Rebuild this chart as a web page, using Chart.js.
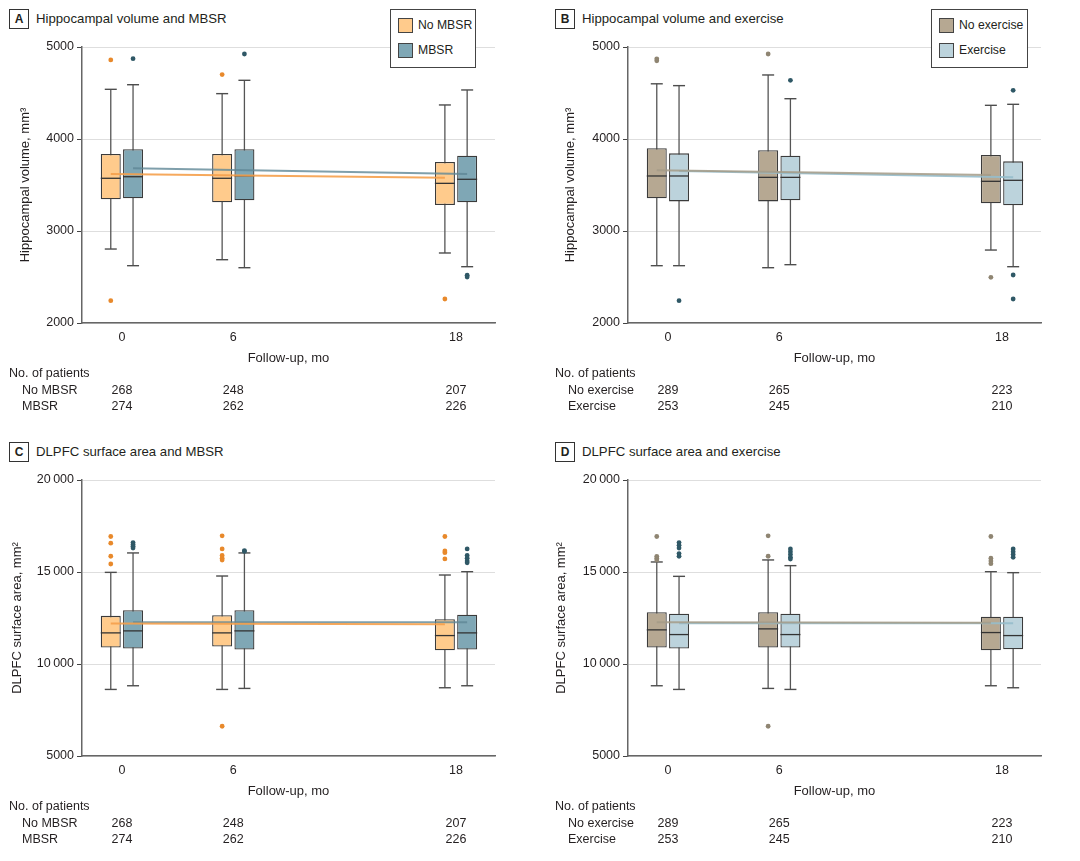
<!DOCTYPE html>
<html>
<head>
<meta charset="utf-8">
<script src="https://cdn.jsdelivr.net/npm/chart.js@4.4.1/dist/chart.umd.min.js"></script>
<style>
  body { margin: 0; background: #fff; font-family: "Liberation Sans", Arial, sans-serif; color: #231f20; }
  .panel { position: absolute; width: 540px; height: 433px; }
  .panel canvas { position: absolute; left: 0; top: 0; }
  .tag { position: absolute; left: 9px; top: 9px; width: 18px; height: 18px; border: 1.3px solid #333; font-weight: bold; font-size: 12px; line-height: 18px; text-align: center; }
  .ptitle { position: absolute; left: 36px; top: 9px; line-height: 20px; font-size: 13.2px; }
  .legend { position: absolute; top: 9px; height: 57px; border: 1px solid #444; background: #fff; }
  .sw { position: absolute; left: 7px; width: 13px; height: 13px; border: 1px solid #444; }
  .lt { position: absolute; left: 27px; font-size: 12.2px; line-height: 18px; white-space: nowrap; }
  .txt { position: absolute; font-size: 12.5px; line-height: 18px; white-space: nowrap; }
</style>
</head>
<body>
<div class="panel" id="pA" style="left:0;top:0">
  <div class="tag">A</div><div class="ptitle">Hippocampal volume and MBSR</div>
  <canvas id="cA" width="540" height="370"></canvas>
</div>
<div class="panel" id="pB" style="left:546px;top:0">
  <div class="tag">B</div><div class="ptitle">Hippocampal volume and exercise</div>
  <canvas id="cB" width="540" height="370"></canvas>
</div>
<div class="panel" id="pC" style="left:0;top:433px">
  <div class="tag">C</div><div class="ptitle">DLPFC surface area and MBSR</div>
  <canvas id="cC" width="540" height="370"></canvas>
</div>
<div class="panel" id="pD" style="left:546px;top:433px">
  <div class="tag">D</div><div class="ptitle">DLPFC surface area and exercise</div>
  <canvas id="cD" width="540" height="370"></canvas>
</div>
<script>
const months = [0, 6, 18];
const shift = 0.6;

// each box row: [low whisker, Q1, median, Q3, high whisker]
// A: hippocampal volume, MBSR
const aNoMbsrBox = [[2804, 3344, 3573, 3837, 4540], [2688, 3312, 3573, 3837, 4493], [2761, 3283, 3518, 3750, 4370]];
const aNoMbsrOut = [[4860, 2243], [4700], [2261]];
const aNoMbsrTrend = [3620, 3580];
const aMbsrBox = [[2623, 3355, 3590, 3888, 4590], [2601, 3334, 3600, 3888, 4638], [2612, 3312, 3562, 3819, 4533]];
const aMbsrOut = [[4873], [4924], [2520, 2500]];
const aMbsrTrend = [3681, 3620];

// B: hippocampal volume, exercise
const bNoExBox = [[2623, 3355, 3598, 3899, 4600], [2601, 3322, 3583, 3877, 4696], [2793, 3301, 3540, 3826, 4366]];
const bNoExOut = [[4850, 4872], [4924], [2496]];
const bNoExTrend = [3660, 3609];
const bExBox = [[2623, 3322, 3598, 3844, 4580], [2634, 3334, 3583, 3819, 4438], [2612, 3279, 3551, 3757, 4377]];
const bExOut = [[2243], [4638], [4529, 2522, 2261]];
const bExTrend = [3652, 3583];

// C: DLPFC surface area, MBSR
const cNoMbsrBox = [[8618, 10891, 11691, 12618, 14980], [8618, 10945, 11691, 12655, 14782], [8709, 10745, 11545, 12436, 14836]];
const cNoMbsrOut = [[16929, 16564, 15855, 15436], [16964, 16255, 15900, 15750, 15650, 6618], [16929, 16145, 16050, 15709]];
const cNoMbsrTrend = [12200, 12164];
const cMbsrBox = [[8818, 10836, 11800, 12927, 16036], [8673, 10782, 11800, 12927, 16036], [8818, 10782, 11691, 12673, 15018]];
const cMbsrOut = [[16600, 16500, 16400, 16300], [16164, 16120], [16255, 15900, 15750, 15600, 15500]];
const cMbsrTrend = [12273, 12273];

// D: DLPFC surface area, exercise
const dNoExBox = [[8818, 10891, 11855, 12818, 15545], [8673, 10891, 11909, 12818, 15655], [8818, 10745, 11709, 12564, 15018]];
const dNoExOut = [[16929, 15850, 15750, 15650], [16964, 15855, 6618], [16929, 15750, 15600, 15450]];
const dNoExTrend = [12273, 12236];
const dExBox = [[8618, 10836, 11600, 12727, 14764], [8618, 10891, 11600, 12727, 15345], [8709, 10800, 11545, 12564, 14964]];
const dExOut = [[16600, 16450, 16300, 16000, 15850], [16250, 16100, 15950, 15800, 15700], [16250, 16100, 15950, 15800]];
const dExTrend = [12218, 12218];

// numbers of patients per month
const mbsrLabels = ["No MBSR", "MBSR"];
const mbsrN = [[268, 248, 207], [274, 262, 226]];
const exLabels = ["No exercise", "Exercise"];
const exN = [[289, 265, 223], [253, 245, 210]];

const hipTicks = [2000, 3000, 4000, 5000];
const dlpfcTicks = [5000, 10000, 15000, 20000];

const colNoMbsr = { fill: "#ffcb8c", dot: "#e8892b", line: "rgba(245,160,75,0.9)" };
const colMbsr = { fill: "#7fa7b5", dot: "#2f5866", line: "rgba(95,135,150,0.8)" };
const colNoEx = { fill: "#b6a892", dot: "#8f8572", line: "rgba(165,155,135,0.85)" };
const colEx = { fill: "#bcd3dc", dot: "#2f5866", line: "rgba(150,188,203,0.9)" };

Chart.defaults.font.family = '"Liberation Sans", Arial, sans-serif';
Chart.defaults.font.size = 12.5;
Chart.defaults.color = "#231f20";

function fmt(v) {
  const s = String(v);
  return s.length > 4 ? s.slice(0, s.length - 3) + "\u2009" + s.slice(-3) : s;
}

function boxSets(box, out, trend, dx, col) {
  const xs = months.map(m => m + dx);
  return [
    { type: "line", data: [{ x: xs[0], y: trend[0] }, { x: xs[2], y: trend[1] }],
      borderColor: col.line, borderWidth: 2, pointRadius: 0, order: 0 },
    { type: "scatter", data: out.flatMap((vals, i) => vals.map(v => ({ x: xs[i], y: v }))),
      pointRadius: 2.4, backgroundColor: col.dot, borderWidth: 0, order: 1 },
    { type: "scatter", data: box.map((b, i) => ({ x: xs[i], y: b[2] })),
      pointStyle: "line", pointRadius: 10, borderColor: "#333", borderWidth: 1.3, order: 2 },
    { type: "bar", data: box.map((b, i) => ({ x: xs[i], y: [b[1], b[3]] })),
      backgroundColor: col.fill, borderColor: "#3b3b3b", borderWidth: 1.3, borderSkipped: false,
      barThickness: 20, grouped: false, inflateAmount: 0, order: 3 },
    { type: "scatter", data: box.flatMap((b, i) => [{ x: xs[i], y: b[0] }, { x: xs[i], y: b[4] }]),
      pointStyle: "line", pointRadius: 6, borderColor: "#4d4d4d", borderWidth: 1.4, order: 4 },
    { type: "bar", data: box.map((b, i) => ({ x: xs[i], y: [b[0], b[4]] })),
      backgroundColor: "#555", barThickness: 1.3, grouped: false, inflateAmount: 0, order: 5 },
  ];
}

function makePanel(p) {
  const datasets = boxSets(p.box1, p.out1, p.trend1, -shift, p.col1)
    .concat(boxSets(p.box2, p.out2, p.trend2, shift, p.col2));
  const chart = new Chart(document.getElementById(p.canvas), {
    type: "bar",
    data: { datasets },
    options: {
      responsive: false,
      animation: false,
      events: [],
      layout: { padding: { top: 47, right: 45, left: 0, bottom: 0 } },
      plugins: { legend: { display: false }, tooltip: { enabled: false } },
      scales: {
        x: {
          type: "linear", min: -2.15, max: 20.1, offset: false,
          afterBuildTicks: s => { s.ticks = months.map(v => ({ value: v })); },
          afterFit: s => { s.height = 47; },
          grid: { display: false, drawTicks: false },
          border: { color: "#666", width: 1.5 },
          ticks: { padding: 7, callback: v => String(v) },
          title: { display: true, text: "Follow-up, mo", font: { size: 13 }, padding: { top: 0, bottom: 4 } },
        },
        y: {
          min: p.ticks[0], max: p.ticks[p.ticks.length - 1],
          afterBuildTicks: s => { s.ticks = p.ticks.map(v => ({ value: v })); },
          afterFit: s => { s.width = 82; },
          grid: { color: "#dedede", tickColor: "#444", tickLength: 5 },
          border: { color: "#666", width: 1.5 },
          ticks: { padding: 3, callback: v => fmt(v) },
          title: { display: true, text: p.yTitle, font: { size: 13 }, padding: { top: p.yPad, bottom: 0 } },
        },
      },
    },
  });

  const panel = document.getElementById(p.panel);
  // legend
  if (p.legendWidth) {
    const lg = document.createElement("div");
    lg.className = "legend";
    lg.style.left = p.legendLeft + "px";
    lg.style.width = p.legendWidth + "px";
    p.labels.forEach((name, i) => {
      const col = i === 0 ? p.col1 : p.col2;
      lg.insertAdjacentHTML("beforeend",
        `<div class="sw" style="top:${8 + i * 25}px;background:${col.fill}"></div>` +
        `<div class="lt" style="top:${6 + i * 25}px">${name}</div>`);
    });
    panel.appendChild(lg);
  }

  // numbers of patients table
  const add = (text, left, top, center) => {
    const d = document.createElement("div");
    d.className = "txt";
    d.textContent = text;
    d.style.left = left + "px";
    d.style.top = top + "px";
    if (center) d.style.transform = "translateX(-50%)";
    panel.appendChild(d);
  };
  add("No. of patients", 9, 364, false);
  p.labels.forEach((name, r) => {
    add(name, 22, 381 + r * 15.5, false);
    p.counts[r].forEach((n, i) => add(String(n), chart.scales.x.getPixelForValue(months[i]), 381 + r * 15.5, true));
  });
}

makePanel({ panel: "pA", canvas: "cA", ticks: hipTicks, yTitle: "Hippocampal volume, mm³", yPad: 18,
  box1: aNoMbsrBox, out1: aNoMbsrOut, trend1: aNoMbsrTrend, col1: colNoMbsr,
  box2: aMbsrBox, out2: aMbsrOut, trend2: aMbsrTrend, col2: colMbsr,
  labels: mbsrLabels, counts: mbsrN, legendLeft: 390, legendWidth: 84 });
makePanel({ panel: "pB", canvas: "cB", ticks: hipTicks, yTitle: "Hippocampal volume, mm³", yPad: 17,
  box1: bNoExBox, out1: bNoExOut, trend1: bNoExTrend, col1: colNoEx,
  box2: bExBox, out2: bExOut, trend2: bExTrend, col2: colEx,
  labels: exLabels, counts: exN, legendLeft: 385, legendWidth: 95 });
makePanel({ panel: "pC", canvas: "cC", ticks: dlpfcTicks, yTitle: "DLPFC surface area, mm²", yPad: 10,
  box1: cNoMbsrBox, out1: cNoMbsrOut, trend1: cNoMbsrTrend, col1: colNoMbsr,
  box2: cMbsrBox, out2: cMbsrOut, trend2: cMbsrTrend, col2: colMbsr,
  labels: mbsrLabels, counts: mbsrN, legendLeft: 0, legendWidth: 0 });
makePanel({ panel: "pD", canvas: "cD", ticks: dlpfcTicks, yTitle: "DLPFC surface area, mm²", yPad: 8,
  box1: dNoExBox, out1: dNoExOut, trend1: dNoExTrend, col1: colNoEx,
  box2: dExBox, out2: dExOut, trend2: dExTrend, col2: colEx,
  labels: exLabels, counts: exN, legendLeft: 0, legendWidth: 0 });
</script>
</body>
</html>
